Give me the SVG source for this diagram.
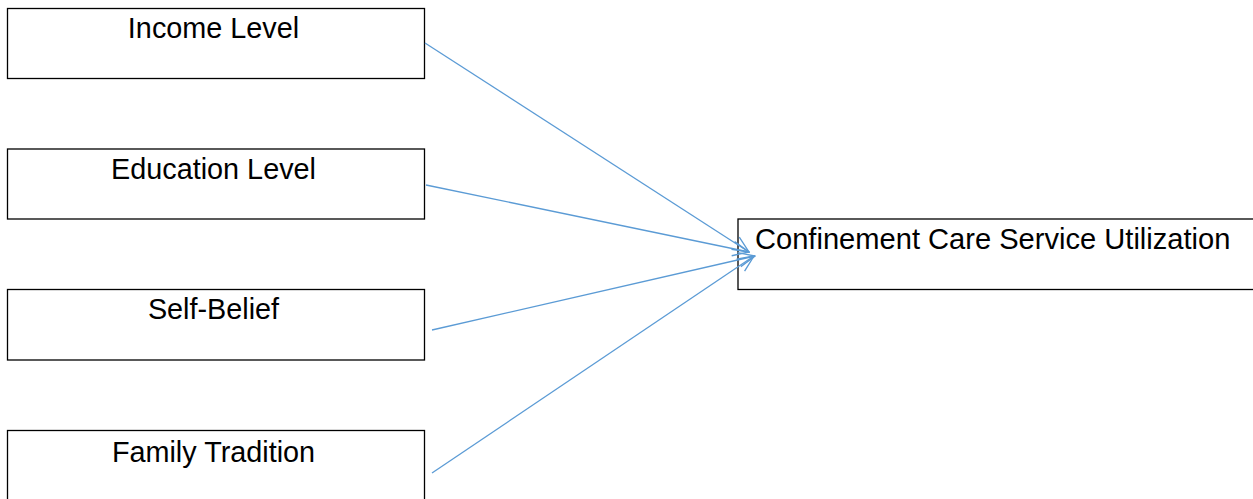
<svg xmlns="http://www.w3.org/2000/svg" width="1253" height="499" viewBox="0 0 1253 499">
<style>
.box{fill:#fff;stroke:#000;stroke-width:1.3}
.lbl{font-family:"Liberation Sans",Arial,sans-serif;font-size:28.8px;fill:#000}
.c{text-anchor:middle}
.conn{stroke:#5B9BD5;stroke-width:1.3;fill:none}
</style>
<defs>
<marker id="arr" viewBox="0 0 20 20" refX="19" refY="10" markerWidth="18" markerHeight="18" markerUnits="userSpaceOnUse" orient="auto">
<path d="M1,2 L19,10 L1,18" fill="none" stroke="#5B9BD5" stroke-width="1.5"/>
</marker>
</defs>
<rect width="1253" height="499" fill="#fff"/>
<g id="income"><rect class="box" x="7.5" y="8.5" width="417" height="70"/><text class="lbl c" x="213.5" y="37.5">Income Level</text></g>
<g id="education"><rect class="box" x="7.5" y="149" width="417" height="70"/><text class="lbl c" x="213.5" y="178.5">Education Level</text></g>
<g id="selfbelief"><rect class="box" x="7.5" y="289.5" width="417" height="70.5"/><text class="lbl c" x="213.5" y="319">Self-Belief</text></g>
<g id="family"><rect class="box" x="7.5" y="430.5" width="417" height="80"/><text class="lbl c" x="213.5" y="461.5">Family Tradition</text></g>
<g id="outcome"><rect class="box" x="738" y="219" width="520" height="70.5"/><text class="lbl" x="755" y="249" style="font-size:29.1px">Confinement Care Service Utilization</text></g>
<g id="connectors">
<line class="conn" x1="425" y1="43" x2="749" y2="252" marker-end="url(#arr)"/>
<line class="conn" x1="426" y1="185" x2="749" y2="252" marker-end="url(#arr)"/>
<line class="conn" x1="432" y1="330" x2="755" y2="256" marker-end="url(#arr)"/>
<line class="conn" x1="432" y1="473" x2="754" y2="256" marker-end="url(#arr)"/>
</g>
</svg>
